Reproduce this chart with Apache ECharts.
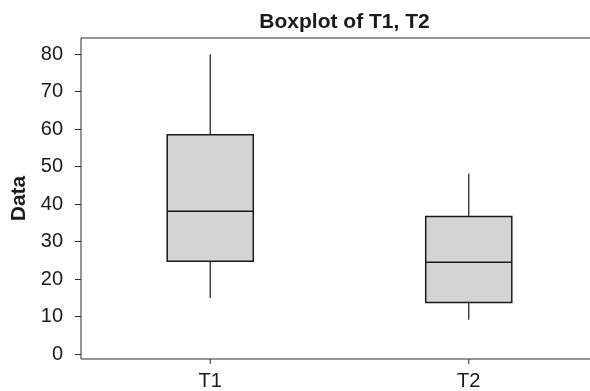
<!DOCTYPE html>
<html>
<head>
<meta charset="utf-8">
<script src="https://cdn.jsdelivr.net/npm/echarts@6/dist/echarts.min.js"></script>
<style>
html,body{margin:0;padding:0;background:#fff;overflow:hidden;}
#chart{width:590px;height:391px;}
</style>
</head>
<body>
<div id="chart"></div>
<script>
var categories = ['T1', 'T2'];
var minValues = [15, 9.2];
var q1Values = [24.8, 13.8];
var medianValues = [38.1, 24.5];
var q3Values = [58.5, 36.7];
var maxValues = [80, 48.2];
var yTickValues = [0, 10, 20, 30, 40, 50, 60, 70, 80];

var boxData = categories.map(function (c, i) {
  return [i, minValues[i], q1Values[i], medianValues[i], q3Values[i], maxValues[i]];
});

var FONT = '"Liberation Sans", Arial, sans-serif';
var chart = echarts.init(document.getElementById('chart'), null, {renderer: 'canvas'});

function renderBox(params, api) {
  var idx = api.value(0);
  var pLo = api.coord([idx, api.value(1)]);
  var pQ1 = api.coord([idx, api.value(2)]);
  var pMed = api.coord([idx, api.value(3)]);
  var pQ3 = api.coord([idx, api.value(4)]);
  var pHi = api.coord([idx, api.value(5)]);
  var w = api.size([1, 0])[0] * 0.333;
  var x = pMed[0];
  var axisY = params.coordSys.y + params.coordSys.height;
  var lineStyle = {stroke: '#2a2a2a', lineWidth: 1.3};
  return {
    type: 'group',
    children: [
      {type: 'line', shape: {x1: x, y1: pHi[1], x2: x, y2: pQ3[1]}, style: lineStyle},
      {type: 'line', shape: {x1: x, y1: pQ1[1], x2: x, y2: pLo[1]}, style: lineStyle},
      {type: 'rect', shape: {x: x - w / 2, y: pQ3[1], width: w, height: pQ1[1] - pQ3[1]},
        style: {fill: '#d3d4d3', stroke: '#1a1a1a', lineWidth: 1.5}},
      {type: 'line', shape: {x1: x - w / 2, y1: pMed[1], x2: x + w / 2, y2: pMed[1]},
        style: {stroke: '#1a1a1a', lineWidth: 1.5}},
      {type: 'line', shape: {x1: x, y1: axisY, x2: x, y2: axisY + 5},
        style: {stroke: '#2a2a2a', lineWidth: 1}}
    ]
  };
}

chart.setOption({
  animation: false,
  backgroundColor: '#ffffff',
  title: {
    text: 'Boxplot of T1, T2',
    left: 339.5,
    textAlign: 'center',
    top: 7,
    textStyle: {fontFamily: FONT, fontSize: 21, fontWeight: 'bold', color: '#1a1a1a'}
  },
  grid: {
    left: 81, width: 517, top: 38, bottom: 32,
    containLabel: false,
    outerBoundsMode: 'none',
    show: true,
    borderColor: '#2a2a2a',
    borderWidth: 1,
    backgroundColor: 'transparent'
  },
  xAxis: {
    type: 'category',
    data: categories,
    boundaryGap: true,
    axisLine: {show: false},
    axisTick: {show: false},
    axisLabel: {fontFamily: FONT, fontSize: 20, color: '#1a1a1a', margin: 12},
    splitLine: {show: false}
  },
  yAxis: {
    type: 'value',
    min: -1.3,
    max: 84.3,
    name: 'Data',
    nameLocation: 'middle',
    nameGap: 50,
    nameRotate: 90,
    nameTextStyle: {fontFamily: FONT, fontSize: 21, fontWeight: 'bold', color: '#1a1a1a'},
    axisLine: {show: false},
    axisTick: {show: true, length: 6, customValues: yTickValues, lineStyle: {color: '#2a2a2a'}},
    axisLabel: {fontFamily: FONT, fontSize: 20, color: '#1a1a1a', margin: 18, customValues: yTickValues},
    splitLine: {show: false}
  },
  series: [{
    type: 'custom',
    renderItem: renderBox,
    clip: false,
    encode: {x: 0, y: [1, 2, 3, 4, 5]},
    data: boxData
  }]
});
</script>
</body>
</html>
